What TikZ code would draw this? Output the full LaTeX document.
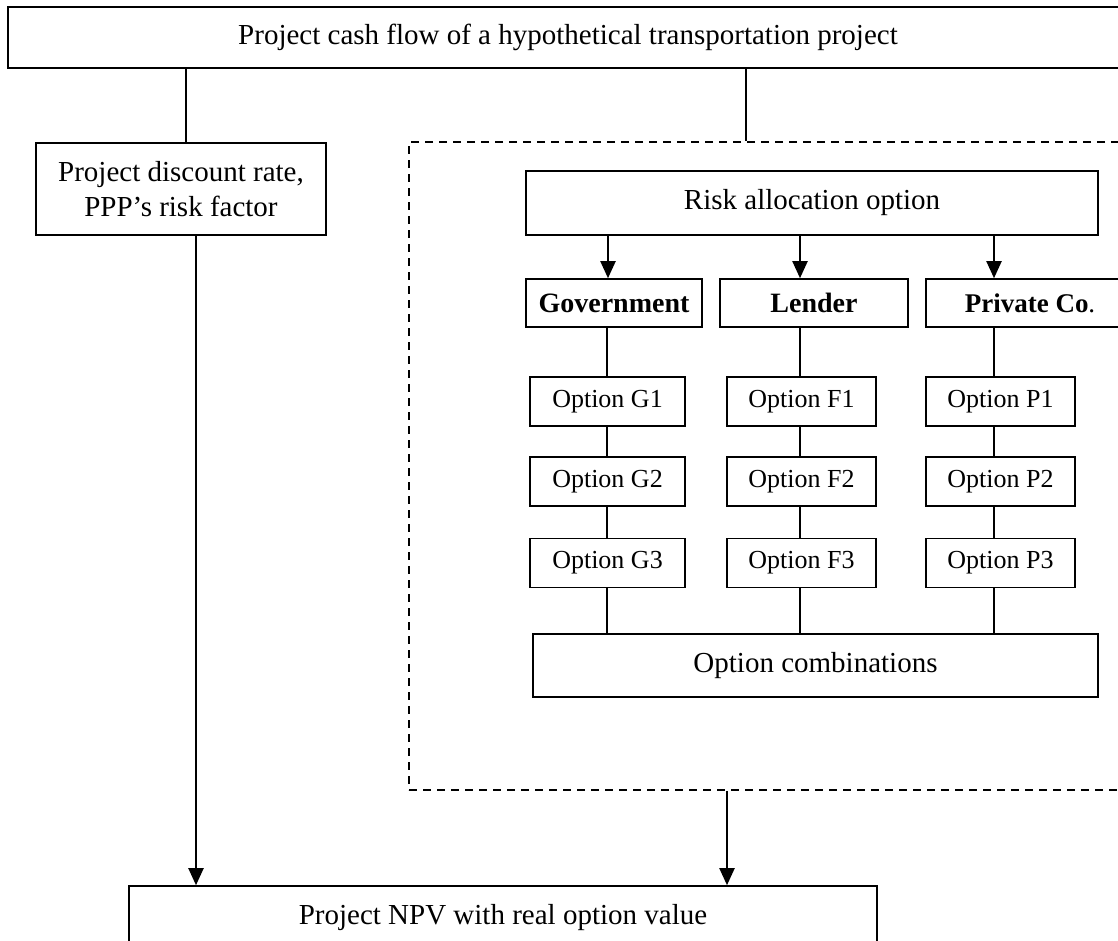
\documentclass[tikz,border=0pt]{standalone}
\usepackage{fontspec}
\setmainfont{Liberation Serif}
\usetikzlibrary{arrows.meta}

\tikzset{
  box/.style={draw, line width=1.6pt, inner sep=0pt, align=center},
  txtL/.style={font=\fontsize{29}{35}\selectfont},
  txtO/.style={font=\fontsize{26}{30}\selectfont},
  txtB/.style={font=\fontsize{28}{32}\selectfont\bfseries},
  link/.style={line width=1.3pt},
  flow/.style={line width=2pt, -{Triangle[length=17pt,width=15pt]}},
  groupbox/.style={draw, line width=1.5pt, dash pattern=on 8pt off 6pt, inner sep=0pt},
  optbox/.style={box, txtO, minimum height=49pt},
}

\begin{document}
\begin{tikzpicture}[x=1pt, y=-1pt]
  \useasboundingbox (0,0) rectangle (1118,940);
  \clip (0,0) rectangle (1118,940);

  % main boxes
  \node[box, txtL, minimum width=1120pt, minimum height=61pt] (top) at (568,37.5)
    {Project cash flow of a hypothetical transportation project};
  \node[box, txtL, minimum width=290pt, minimum height=92pt] (disc) at (181,189)
    {Project discount rate,\\PPP’s risk factor};
  \node[groupbox, minimum width=731pt, minimum height=648pt] (grp) at (774.5,466) {};
  \node[box, txtL, minimum width=748pt, minimum height=64pt] (npv) at (503,918)
    {Project NPV with real option value};

  % risk allocation block
  \node[box, txtL, minimum width=572pt, minimum height=64pt] (risk) at (812,203)
    {Risk allocation option};
  \node[box, txtB, minimum width=176pt, minimum height=48pt] (gov) at (614,303) {Government};
  \node[box, txtB, minimum width=188pt, minimum height=48pt] (len) at (814,303) {Lender};
  \node[box, font=\fontsize{27}{31}\selectfont, minimum width=208pt, minimum height=48pt] (prv) at (1030,303) {\textbf{Private Co}.};

  % option columns
  \node[optbox, minimum width=155pt] (g1) at (607.5,401.5) {Option G1};
  \node[optbox, minimum width=155pt] (g2) at (607.5,481.5) {Option G2};
  \node[optbox, minimum width=155pt] (g3) at (607.5,563)   {Option G3};
  \node[optbox, minimum width=149pt] (f1) at (801.5,401.5) {Option F1};
  \node[optbox, minimum width=149pt] (f2) at (801.5,481.5) {Option F2};
  \node[optbox, minimum width=149pt] (f3) at (801.5,563)   {Option F3};
  \node[optbox, minimum width=149pt] (p1) at (1000.5,401.5) {Option P1};
  \node[optbox, minimum width=149pt] (p2) at (1000.5,481.5) {Option P2};
  \node[optbox, minimum width=149pt] (p3) at (1000.5,563)   {Option P3};
  \node[box, txtL, minimum width=565pt, minimum height=63pt] (comb) at (815.5,665.5)
    {Option combinations};

  % top-level connectors
  \draw[link] (top.south -| 186,0) -- (disc.north -| 186,0);
  \draw[link] (top.south -| 746,0) -- (grp.north -| 746,0);
  \draw[flow] (disc.south -| 196,0) -- (npv.north -| 196,0);
  \draw[flow] (grp.south -| 727,0) -- (npv.north -| 727,0);

  % risk allocation arrows
  \draw[flow] (risk.south -| 608,0) -- (gov.north -| 608,0);
  \draw[flow] (risk.south -| 800,0) -- (len.north -| 800,0);
  \draw[flow] (risk.south -| 994,0) -- (prv.north -| 994,0);

  % option chains
  \foreach \a/\b/\x in {gov/g1/607, g1/g2/607, g2/g3/607, g3/comb/607,
                        len/f1/800, f1/f2/800, f2/f3/800, f3/comb/800,
                        prv/p1/994, p1/p2/994, p2/p3/994, p3/comb/994}
    \draw[link] (\a.south -| \x,0) -- (\b.north -| \x,0);
\end{tikzpicture}
\end{document}
